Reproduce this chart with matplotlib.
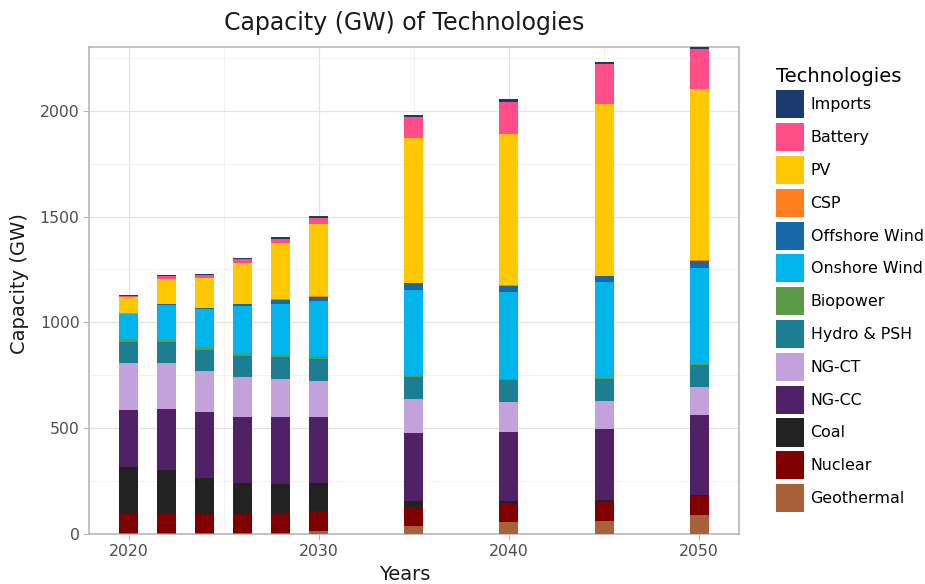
import matplotlib
matplotlib.use("Agg")
import matplotlib.pyplot as plt
from matplotlib.patches import Patch
from matplotlib.ticker import MultipleLocator
import numpy as np

years = [2020, 2022, 2024, 2026, 2028, 2030, 2035, 2040, 2045, 2050]

technologies = ["Geothermal", "Nuclear", "Coal", "NG-CC", "NG-CT", "Hydro & PSH",
                "Biopower", "Onshore Wind", "Offshore Wind", "CSP", "PV", "Battery", "Imports"]

geothermal = [3, 3, 3, 3, 3, 16, 38, 58, 62, 91]
nuclear = [96, 92, 92, 92, 92, 91, 91, 87, 91, 87]
coal = [219, 208, 170, 148, 140, 133, 29, 13, 8, 8]
ng_cc = [269, 289, 313, 312, 319, 315, 320, 323, 333, 377]
ng_ct = [219, 217, 192, 185, 180, 169, 158, 142, 135, 131]
hydro_psh = [101, 100, 99, 101, 104, 102, 105, 106, 105, 104]
biopower = [8, 6, 9, 8, 6, 10, 5, 5, 4, 5]
onshore_wind = [125, 168, 185, 227, 244, 265, 407, 408, 453, 456]
offshore_wind = [1, 2, 5, 10, 19, 20, 31, 31, 28, 32]
csp = [2, 2, 2, 2, 2, 2, 2, 2, 2, 2]
pv = [75, 118, 140, 191, 265, 344, 683, 715, 811, 810]
battery = [6, 13, 12, 19, 19, 27, 101, 153, 190, 189]
imports = [7, 8, 8, 8, 11, 9, 11, 11, 10, 10]

series = [geothermal, nuclear, coal, ng_cc, ng_ct, hydro_psh, biopower,
          onshore_wind, offshore_wind, csp, pv, battery, imports]

colors = ["#a8623a", "#7f0000", "#222222", "#512168", "#c3a1da", "#1b7e93",
          "#5b9a46", "#00b5ec", "#1569a6", "#ff7f1e", "#ffc800", "#ff4d87", "#1b3a6e"]

fig = plt.figure(figsize=(9.25, 5.84), dpi=100)
ax = fig.add_axes([89.3/925, 50/584, (738.5-89.3)/925, (534-47)/584])

bottom = np.zeros(len(years))
for name, vals, c in zip(technologies, series, colors):
    v = np.array(vals, dtype=float)
    ax.bar(years, v, bottom=bottom, width=1.0, color=c, edgecolor="none", zorder=3)
    bottom += v

ax.set_xlim(2017.93, 2052.07)
ax.set_ylim(0, 2301)
ax.xaxis.set_major_locator(MultipleLocator(10))
ax.xaxis.set_minor_locator(MultipleLocator(5))
ax.yaxis.set_major_locator(MultipleLocator(500))
ax.yaxis.set_minor_locator(MultipleLocator(250))
ax.grid(which="major", color="#e3e3e3", linewidth=0.9, zorder=0)
ax.grid(which="minor", color="#f0f0f0", linewidth=0.6, zorder=0)
ax.set_axisbelow(True)
for s in ax.spines.values():
    s.set_color("#b8b8b8")
    s.set_linewidth(1.2)
ax.tick_params(which="major", length=4, color="#b8b8b8", labelsize=11.3,
               labelcolor="#4d4d4d", pad=3)
ax.tick_params(which="minor", length=0)

fig.text(404.5/925, 1 - 23/584, "Capacity (GW) of Technologies", ha="center", va="center",
         fontsize=17, color="#1a1a1a")
fig.text(404.5/925, 1 - 574/584, "Years", ha="center", va="center", fontsize=14, color="#1a1a1a")
fig.text(20/925, 1 - 284/584, "Capacity (GW)", ha="center", va="center", rotation=90,
         fontsize=14, color="#1a1a1a")

handles = [Patch(facecolor=c, edgecolor="none", label=n) for n, c in zip(technologies, colors)][::-1]
leg = fig.legend(handles=handles, title="Technologies", loc="upper left",
                 bbox_to_anchor=(773/925, 1 - 64/584), frameon=False,
                 fontsize=11.4, title_fontsize=14, handlelength=1.77, handleheight=2.35,
                 labelspacing=0.3, handletextpad=0.4, borderaxespad=0, borderpad=0.2)
leg._legend_box.align = "left"
leg._legend_box.sep = 3

fig.savefig("out.png", dpi=100)
